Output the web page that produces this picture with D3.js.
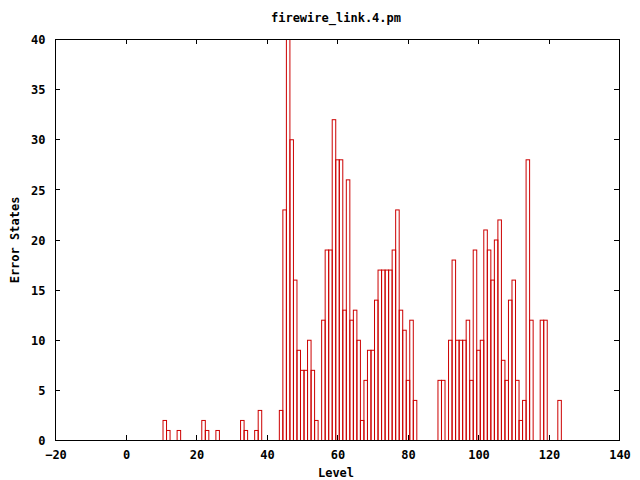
<!DOCTYPE html>
<html>
<head>
<meta charset="utf-8">
<script src="https://cdn.jsdelivr.net/npm/d3@7"></script>
<style>
  html, body { margin: 0; padding: 0; background: #fff; }
  svg { display: block; }
  text { font-family: "DejaVu Sans Mono", "Liberation Mono", monospace; font-weight: bold; font-size: 12px; fill: #000; }
</style>
</head>
<body>
<svg id="chart" width="640" height="480"></svg>
<script>
const title = "firewire_link.4.pm";
const xLabel = "Level";
const yLabel = "Error States";
const xTicks = [-20, 0, 20, 40, 60, 80, 100, 120, 140];
const yTicks = [0, 5, 10, 15, 20, 25, 30, 35, 40];

const levels = [11, 12, 15, 22, 23, 26, 33, 34, 37, 38,
  44, 45, 46, 47, 48, 49, 50, 51, 52, 53, 54,
  56, 57, 58, 59, 60, 61, 62, 63, 64, 65, 66, 67, 68, 69, 70,
  71, 72, 73, 74, 75, 76, 77, 78, 79, 80, 81, 82,
  89, 90, 92, 93, 94, 95, 96, 97, 98, 99, 100,
  101, 102, 103, 104, 105, 106, 107, 108, 109, 110,
  111, 112, 113, 114, 115, 118, 119, 123];
const counts = [2, 1, 1, 2, 1, 1, 2, 1, 1, 3,
  3, 23, 41, 30, 16, 9, 7, 7, 10, 7, 2,
  12, 19, 19, 32, 28, 28, 13, 26, 12, 13, 10, 2, 6, 9, 9,
  14, 17, 17, 17, 17, 19, 23, 13, 11, 6, 12, 4,
  6, 6, 10, 18, 10, 10, 10, 12, 6, 19, 9,
  10, 21, 19, 16, 20, 22, 8, 6, 14, 16,
  6, 2, 4, 28, 12, 12, 12, 4];

const svg = d3.select("#chart");
const L = 55, R = 619, T = 39, B = 440;
const x = d3.scaleLinear().domain([-20, 140]).range([L, R]);
const y = d3.scaleLinear().domain([0, 40]).range([B, T]);
const barColor = "#cc0000";

svg.append("defs").append("clipPath").attr("id", "plotclip")
  .append("rect").attr("x", L).attr("y", T).attr("width", R - L).attr("height", B - T);

const data = levels.map((l, i) => ({ level: l, count: counts[i] }));

// bars (empty boxes, width 1 unit)
svg.append("g").attr("clip-path", "url(#plotclip)")
  .selectAll("rect").data(data).enter().append("rect")
  .attr("x", d => x(d.level - 0.5) + 0.5)
  .attr("y", d => y(d.count) + 0.5)
  .attr("width", d => x(d.level + 0.5) - x(d.level - 0.5))
  .attr("height", d => y(0) - y(d.count))
  .attr("fill", "none")
  .attr("stroke", barColor)
  .attr("stroke-width", 1);

// axes (ticks inward, mirrored)
const tk = 5;
const axB = d3.axisBottom(x).tickValues(xTicks).tickSize(0).tickFormat(d3.format("d")).tickPadding(10);
const gB = svg.append("g").attr("transform", `translate(0.5,${B + 0.5})`).call(axB);
gB.select(".domain").remove();
gB.selectAll("text").attr("dy", "0.71em").attr("y", 10);

const axL = d3.axisLeft(y).tickValues(yTicks).tickSize(0).tickFormat(d3.format("d")).tickPadding(10);
const gL = svg.append("g").attr("transform", `translate(${L + 0.5},0.5)`).call(axL);
gL.select(".domain").remove();
gL.selectAll("text").attr("dy", "0.35em");

const tg = svg.append("g").attr("stroke", "#000").attr("stroke-width", 1);
xTicks.forEach(v => {
  const px = Math.round(x(v)) + 0.5;
  tg.append("line").attr("x1", px).attr("x2", px).attr("y1", B).attr("y2", B - tk);
  tg.append("line").attr("x1", px).attr("x2", px).attr("y1", T).attr("y2", T + tk);
});
yTicks.forEach(v => {
  const py = Math.round(y(v)) + 0.5;
  tg.append("line").attr("x1", L).attr("x2", L + tk).attr("y1", py).attr("y2", py);
  tg.append("line").attr("x1", R).attr("x2", R - tk).attr("y1", py).attr("y2", py);
});

// frame
svg.append("rect").attr("x", L + 0.5).attr("y", T + 0.5)
  .attr("width", R - L).attr("height", B - T)
  .attr("fill", "none").attr("stroke", "#000").attr("stroke-width", 1);

// labels
svg.append("text").attr("x", 336).attr("y", 22).attr("text-anchor", "middle").text(title);
svg.append("text").attr("x", 336).attr("y", 477).attr("text-anchor", "middle").text(xLabel);
svg.append("text").attr("transform", "translate(19,240) rotate(-90)").attr("text-anchor", "middle").text(yLabel);
</script>
</body>
</html>
